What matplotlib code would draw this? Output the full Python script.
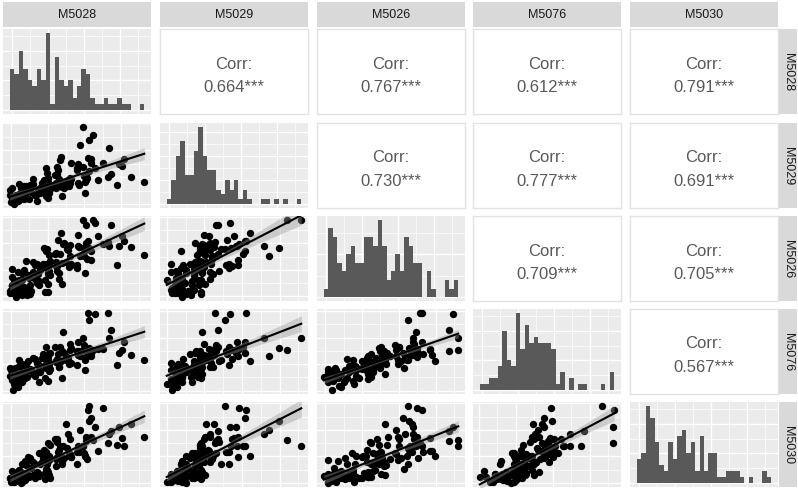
import numpy as np
import matplotlib.pyplot as plt
from matplotlib.ticker import MultipleLocator

plt.rcParams['font.family'] = ['Liberation Sans', 'DejaVu Sans']

names = ['M5028', 'M5029', 'M5026', 'M5076', 'M5030']

m5028 = [0.2, -0.3, 0.4, -0.1, 1.1, 0.6, 1.3, 1.0, 1.8, 2.4, 1.7, 2.1, 2.3, 2.8, 3.0, 4.4, 3.9, 5.2, 5.6, 8.1,
         0.2, -0.3, 1.4, 0.9, 2.1, 1.6, 2.3, 3.0, 2.8, 3.4, 3.7, 4.1, 5.3, 4.8, 6.0, 7.4, 7.9, 8.2, 8.6, 11.1,
         0.2, 1.7, 2.4, 2.9, 4.1, 5.6, 6.3, 6.0, 5.8, 7.4, 6.7, 8.1, 8.3, 7.8, 8.0, 10.4, 9.9, 11.2, 12.6, 16.1,
         3.2, 4.7, 6.4, 6.9, 8.1, 7.6, 8.3, 8.0, 9.8, 10.4, 9.7, 10.1, 11.3, 10.8, 12.0, 14.4, 14.9, 16.2, 16.6, 23.1,
         7.2, 7.7, 8.4, 9.9, 10.1, 11.6, 12.3, 13.0, 12.8, 14.4, 14.7, 15.1, 16.3, 15.8, 17.0, 17.4, 18.9, 21.2, 23.6, 29.1,
         10.2, 10.7, 12.4, 12.9, 13.1, 14.6, 16.3, 16.0, 15.8, 17.4, 16.7, 17.1, 18.3, 17.8, 20.0, 21.4, 21.9, 24.2, 24.6, 26.1]
m5029 = [1.8, 3.3, 1.1, 0.9, 3.2, 0.0, 1.1, 2.4, 1.7, 3.2, 3.9, 5.8, 2.4, 6.6, 3.3, 4.6, 2.0, 3.2, 3.7, 2.1,
         2.8, 5.3, 2.1, 1.9, 4.2, 1.0, 2.1, 3.4, 2.7, 5.2, 5.9, 6.8, 3.4, 7.6, 5.3, 6.6, 3.0, 4.2, 5.7, 3.1,
         5.8, 7.3, 3.1, 1.9, 7.2, 1.0, 4.1, 5.4, 5.7, 7.2, 7.9, 9.8, 6.4, 11.6, 7.3, 7.6, 6.0, 6.2, 6.7, 4.1,
         6.8, 9.3, 6.1, 4.9, 8.2, 3.0, 6.1, 7.4, 7.7, 9.2, 10.9, 13.8, 7.4, 17.6, 8.3, 12.6, 7.0, 8.2, 9.7, 7.1,
         8.8, 13.3, 7.1, 6.9, 11.2, 6.0, 7.1, 9.4, 9.7, 13.2, 14.9, 21.8, 10.4, 28.6, 12.3, 16.6, 9.0, 10.2, 14.7, 8.1,
         12.8, 16.3, 9.1, 7.9, 15.2, 8.0, 9.1, 10.4, 13.7, 15.2, 16.9, 23.8, 13.4, 25.6, 15.3, 20.6, 11.0, 14.2, 16.7, 10.1]
m5026 = [4.3, 1.1, 1.4, 2.4, -0.3, 6.2, 3.0, 1.2, 1.4, 0.6, 5.1, 2.3, 8.8, 9.9, 2.9, 2.0, 6.8, 6.7, 5.1, 1.8,
         7.3, 2.1, 3.4, 5.4, 0.7, 9.2, 6.0, 2.2, 3.4, 0.6, 8.1, 4.3, 11.8, 12.9, 5.9, 6.0, 10.8, 9.7, 8.1, 4.8,
         10.3, 6.1, 6.4, 9.4, 0.7, 12.2, 10.0, 4.2, 8.4, 1.6, 11.1, 8.3, 15.8, 17.9, 9.9, 9.0, 12.8, 12.7, 11.1, 8.8,
         13.3, 9.1, 10.4, 12.4, 4.7, 17.2, 12.0, 9.2, 11.4, 6.6, 16.1, 11.3, 19.8, 23.9, 12.9, 12.0, 18.8, 17.7, 14.1, 11.8,
         18.3, 12.1, 13.4, 16.4, 9.7, 20.2, 18.0, 12.2, 15.4, 10.6, 19.1, 15.3, 26.8, 28.9, 17.9, 17.0, 22.8, 20.7, 19.1, 15.8,
         21.3, 16.1, 17.4, 19.4, 11.7, 23.2, 20.0, 15.2, 18.4, 13.6, 21.1, 18.3, 27.8, 28.9, 19.9, 19.0, 26.8, 22.7, 21.1, 18.8]
m5076 = [3.9, 5.4, 0.2, 7.7, 5.0, 2.4, 1.6, 6.1, 5.2, 3.1, 9.3, 5.9, 10.0, 5.3, 4.7, 7.8, 7.8, 5.4, 7.2, 3.6,
         4.9, 8.4, 1.2, 8.7, 7.0, 4.4, 3.6, 8.1, 6.2, 5.1, 11.3, 7.9, 12.0, 6.3, 7.7, 9.8, 9.8, 7.4, 8.2, 4.6,
         7.9, 11.4, 9.2, 6.3, 8.0, 10.3, 7.6, 3.4, 10.2, 4.8, 12.4, 8.9, 10.0, 11.7, 13.7, 9.1, 10.8, 15.1, 10.2, 7.6,
         9.9, 12.4, 7.2, 13.7, 12.0, 8.4, 8.6, 13.1, 11.2, 9.1, 16.3, 11.9, 22.0, 11.3, 11.7, 14.8, 14.8, 11.4, 13.2, 9.6,
         12.9, 16.4, 14.2, 11.3, 11.0, 14.3, 12.6, 10.4, 15.2, 9.8, 18.4, 12.9, 15.0, 19.7, 26.7, 14.1, 15.8, 29.1, 14.2, 11.6,
         13.9, 16.4, 12.2, 17.7, 16.0, 13.4, 12.6, 17.1, 15.2, 13.1, 29.3, 15.9, 29.0, 15.3, 15.7, 19.8, 22.8, 15.4, 18.2, 13.6]
m5030 = [1.4, 1.8, 2.3, 0.4, 2.6, 0.3, 2.2, 0.7, 0.9, 0.3, 1.9, 4.1, 2.8, 2.1, 8.1, 5.6, 2.2, 2.0, 4.0, 3.3,
         1.8, 1.8, 4.3, 3.4, -0.1, 2.1, 3.2, 1.2, 2.0, 3.3, 9.6, 9.4, 7.1, 3.1, 11.3, 3.6, 4.7, 3.0, 1.9, 7.3,
         4.4, 4.8, 7.3, 2.4, 8.6, 3.3, 7.2, 2.7, 3.9, 1.3, 7.9, 10.1, 8.8, 7.1, 15.1, 12.6, 6.2, 8.0, 11.0, 10.3,
         6.8, 7.8, 11.3, 9.4, 2.9, 5.1, 10.2, 4.2, 9.0, 10.3, 16.6, 16.4, 14.1, 10.1, 22.3, 11.6, 11.7, 10.0, 8.9, 14.3,
         12.4, 11.8, 14.3, 9.4, 15.6, 9.3, 13.2, 9.7, 10.9, 7.3, 13.9, 20.1, 15.8, 14.1, 29.1, 24.6, 12.2, 15.0, 21.0, 17.3,
         11.8, 13.8, 18.3, 16.4, 9.9, 12.1, 17.2, 11.2, 14.0, 17.3, 27.6, 23.4, 21.1, 16.1, 28.3, 18.6, 19.7, 17.0, 13.9, 22.3]

# correlations printed in the upper panels
corr_vals = [0.664, 0.767, 0.612, 0.791, 0.730, 0.777, 0.691, 0.709, 0.705, 0.567]

data = [np.array(v) for v in (m5028, m5029, m5026, m5076, m5030)]
n = len(names)

W, H = 798, 489
col_x = [3, 160, 317, 473, 630]
col_w = 148
row_y = [30, 124, 217, 310, 403]
row_h = 85

def frac(x, y, w, h):
    return [x / W, 1 - (y + h) / H, w / W, h / H]

def pad(lo, hi, f=0.05):
    d = (hi - lo) * f
    return lo - d, hi + d

fig = plt.figure(figsize=(W / 100, H / 100), dpi=100)
fig.patch.set_facecolor('white')

def gray_panel(ax):
    ax.set_facecolor('#EBEBEB')
    for s in ax.spines.values():
        s.set_visible(False)
    ax.set_axisbelow(True)
    ax.grid(which='major', color='white', lw=1.0)
    ax.grid(which='minor', color='white', lw=0.5)
    ax.tick_params(which='both', length=0, labelbottom=False, labelleft=False)

edges = np.arange(-0.5, 30, 1.0)
k = 0
for i in range(n):
    for j in range(n):
        ax = fig.add_axes(frac(col_x[j], row_y[i], col_w, row_h))
        if i < j:
            ax.set_facecolor('white')
            for s in ax.spines.values():
                s.set_color('#E3E3E3')
                s.set_linewidth(1.0)
            ax.set_xticks([])
            ax.set_yticks([])
            ax.text(0.5, 0.60, 'Corr:', ha='center', va='center', fontsize=12,
                    color='#595959', transform=ax.transAxes)
            ax.text(0.5, 0.32, '%.3f***' % corr_vals[k], ha='center', va='center',
                    fontsize=12, color='#595959', transform=ax.transAxes)
            k += 1
        elif i == j:
            gray_panel(ax)
            counts, _, _ = ax.hist(data[i], bins=edges, color='#595959', lw=0)
            ax.set_xlim(pad(edges[0], edges[-1]))
            ax.set_ylim(pad(0, counts.max()))
            ax.xaxis.set_major_locator(MultipleLocator(8))
            ax.xaxis.set_minor_locator(MultipleLocator(4))
            ax.yaxis.set_major_locator(MultipleLocator(5))
            ax.yaxis.set_minor_locator(MultipleLocator(2.5))
        else:
            gray_panel(ax)
            x, y = data[j], data[i]
            ax.scatter(x, y, s=28, c='black', lw=0, zorder=2)
            # lm fit with 95% band, like geom_smooth(method = "lm")
            b, a = np.polyfit(x, y, 1)
            xs = np.linspace(x.min(), x.max(), 80)
            res = y - (a + b * x)
            se = np.sqrt(np.sum(res ** 2) / (len(x) - 2))
            sxx = np.sum((x - x.mean()) ** 2)
            band = 1.98 * se * np.sqrt(1 / len(x) + (xs - x.mean()) ** 2 / sxx)
            ax.fill_between(xs, a + b * xs - band, a + b * xs + band,
                            color='#999999', alpha=0.4, lw=0, zorder=3)
            ax.plot(xs, a + b * xs, color='black', lw=1.5, zorder=4)
            ax.set_xlim(pad(x.min(), x.max()))
            ax.set_ylim(pad(y.min(), y.max()))
            ax.xaxis.set_major_locator(MultipleLocator(8))
            ax.xaxis.set_minor_locator(MultipleLocator(4))
            ax.yaxis.set_major_locator(MultipleLocator(10))
            ax.yaxis.set_minor_locator(MultipleLocator(5))

# facet strips
for j in range(n):
    ax = fig.add_axes(frac(col_x[j], 3, col_w, 25))
    ax.set_facecolor('#D9D9D9')
    ax.set_xticks([])
    ax.set_yticks([])
    for s in ax.spines.values():
        s.set_visible(False)
    ax.text(0.5, 0.5, names[j], ha='center', va='center', fontsize=9,
            color='#1A1A1A', transform=ax.transAxes)
for i in range(n):
    ax = fig.add_axes(frac(779, row_y[i], 18, row_h))
    ax.set_facecolor('#D9D9D9')
    ax.set_xticks([])
    ax.set_yticks([])
    for s in ax.spines.values():
        s.set_visible(False)
    ax.text(0.5, 0.5, names[i], ha='center', va='center', fontsize=9,
            color='#1A1A1A', rotation=-90, transform=ax.transAxes)

fig.savefig('out.png', dpi=100)
